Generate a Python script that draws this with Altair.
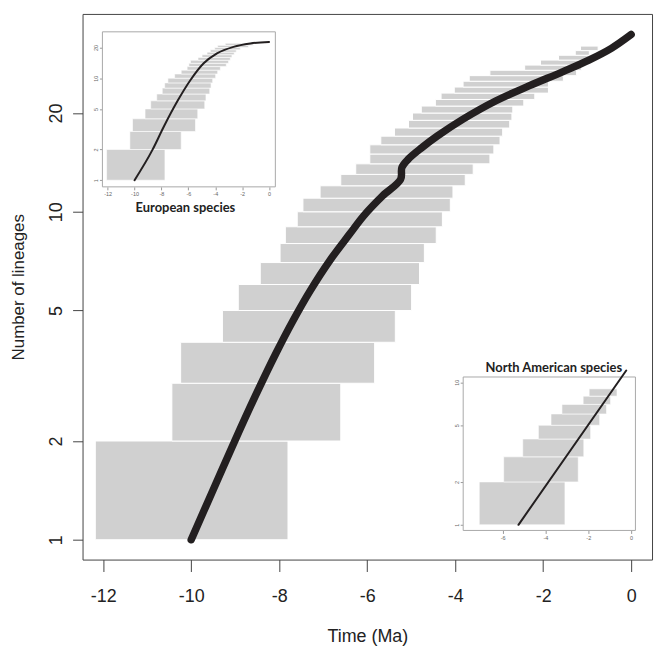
import altair as alt
import pandas as pd

# ---------------- data ----------------
# Main panel: lineage-through-time intervals (one bar per lineage count)
main_n = list(range(1, 32))
main_left = [-12.18, -10.44, -10.24, -9.29, -8.93, -8.43, -7.98, -7.86, -7.59, -7.46,
             -7.07, -6.60, -6.26, -5.94, -5.94, -5.69, -5.38, -5.06, -4.97, -4.77,
             -4.45, -4.32, -4.02, -3.82, -3.68, -3.21, -2.42, -2.06, -1.65, -1.27, -1.15]
main_right = [-7.80, -6.60, -5.83, -5.36, -4.99, -4.81, -4.70, -4.43, -4.29, -4.11,
              -4.05, -3.77, -3.59, -3.21, -3.12, -2.98, -2.92, -2.76, -2.71, -2.69,
              -2.44, -2.19, -1.88, -1.88, -1.54, -1.24, -1.13, -1.06, -0.97, -0.95, -0.75]
main_curve_t = [-10.0, -9.52, -9.01, -8.55, -8.07, -7.68, -7.29, -6.85, -6.39, -6.08,
                -5.65, -5.24, -5.21, -5.06, -4.76, -4.41, -3.82, -3.07, -2.31, -1.56,
                -0.96, -0.45, 0.0]
main_curve_n = [1.0, 1.40, 2.0, 2.73, 3.71, 4.67, 5.76, 7.10, 8.58, 9.72,
                11.18, 12.55, 13.66, 14.49, 15.67, 17.0, 19.16, 21.8, 24.23, 26.71,
                29.0, 31.5, 34.7]

# European inset
eu_n = list(range(1, 22))
eu_left = [-12.08, -10.35, -10.15, -9.22, -8.80, -8.35, -7.94, -7.76, -7.52, -7.02,
           -6.53, -6.09, -5.96, -5.84, -5.28, -4.98, -4.61, -4.36, -4.04, -3.82, -3.25]
eu_right = [-7.74, -6.53, -5.47, -5.30, -4.78, -4.69, -4.41, -4.31, -4.19, -3.97,
            -3.82, -3.62, -3.18, -3.01, -2.88, -2.76, -2.59, -2.44, -2.14, -1.53, -1.16]
eu_curve_t = [-10.0, -8.68, -7.81, -6.83, -5.84, -4.86, -3.87, -2.64, -1.40, 0.0]
eu_curve_n = [1.0, 1.97, 3.38, 5.9, 9.6, 14.0, 17.5, 20.3, 21.9, 22.7]

# North American inset
na_n = list(range(1, 9))
na_left = [-7.09, -5.95, -5.06, -4.33, -3.74, -3.23, -2.24, -1.96]
na_right = [-3.09, -2.47, -2.21, -1.89, -1.47, -1.15, -0.96, -0.66]
na_curve_t = [-5.26, -0.23]
na_curve_n = [1.0, 12.1]

x_ticks_main = [-12, -10, -8, -6, -4, -2, 0]
y_ticks_main = [1, 2, 5, 10, 20]
x_ticks_eu = [-12, -10, -8, -6, -4, -2, 0]
y_ticks_eu = [1, 2, 5, 10, 20]
x_ticks_na = [-6, -4, -2, 0]
y_ticks_na = [1, 2, 5, 10]

# ---------------- layout / style ----------------
W, H = 573, 549
FONT = "Liberation Sans"
BAR = "#d0d0d0"
INK = "#231f20"
PLAIN = "toString(datum.value)"


def bars_df(n, left, right):
    return pd.DataFrame({"lo": n, "hi": [v + 1 for v in n], "t0": left, "t1": right})


def curve_df(t, n):
    return pd.DataFrame({"t0": t, "lo": n, "k": list(range(len(t)))})


def frame_df(xd, yd):
    return pd.DataFrame({"t0": [xd[0]], "t1": [xd[1]], "lo": [yd[0]], "hi": [yd[1]]})


# ---------- main panel ----------
main_xd, main_yd = [-12.47, 0.475], [0.87, 40.1]
main_xs = alt.Scale(domain=main_xd, nice=False, zero=False)
main_ys = alt.Scale(type="log", domain=main_yd, nice=False)

main_xaxis = alt.Axis(
    orient="bottom", values=x_ticks_main, labelExpr=PLAIN, tickSize=12, domain=False,
    grid=False, labelFontSize=18, labelColor="#222", tickColor="#444", tickWidth=1,
    labelBaseline="alphabetic", labelPadding=30, labelFont=FONT,
    title="Time (Ma)", titleFontSize=18, titleFontWeight="normal", titleColor="#222",
    titleFont=FONT, titleBaseline="alphabetic", titleY=82, titleX=W / 2)
main_yaxis = alt.Axis(
    orient="left", values=y_ticks_main, labelExpr=PLAIN, tickSize=10, domain=False,
    grid=False, labelFontSize=18, labelColor="#222", tickColor="#444", tickWidth=1,
    labelAngle=270, labelAlign="center", labelBaseline="alphabetic", labelPadding=11,
    labelFont=FONT,
    title="Number of lineages", titleFontSize=17, titleFontWeight="normal",
    titleColor="#222", titleFont=FONT, titleAngle=270, titleAlign="center",
    titleBaseline="alphabetic", titleX=-59, titleY=H / 2)

main_bars = alt.Chart(bars_df(main_n, main_left, main_right)).mark_rect(
    fill=BAR, stroke="white", strokeWidth=1
).encode(
    x=alt.X("t0:Q", scale=main_xs, axis=main_xaxis),
    x2="t1:Q",
    y=alt.Y("lo:Q", scale=main_ys, axis=main_yaxis),
    y2="hi:Q",
)

main_line = alt.Chart(curve_df(main_curve_t, main_curve_n)).mark_line(
    color=INK, strokeWidth=7.5, strokeCap="round", strokeJoin="round",
    interpolate="catmull-rom"
).encode(
    x=alt.X("t0:Q", scale=main_xs, axis=main_xaxis),
    y=alt.Y("lo:Q", scale=main_ys, axis=main_yaxis),
    order="k:Q",
)

main_layer = alt.layer(main_bars, main_line)


def inset(xd, yd, xrange, yrange, n, left, right, ct, cn, xticks, yticks,
          xoffset, yoffset, title, title_x, title_y, interp):
    xs = alt.Scale(domain=xd, range=xrange, nice=False, zero=False)
    ys = alt.Scale(type="log", domain=yd, range=yrange, nice=False)
    xaxis = alt.Axis(
        orient="bottom", offset=xoffset, values=xticks, labelExpr=PLAIN, tickSize=3,
        domain=False, grid=False, labelFontSize=5.5, labelColor="#666",
        tickColor="#999", labelPadding=2, labelFont=FONT,
        title=title, titleFont="Lato", titleFontWeight="bold", titleFontSize=13,
        titleColor="#222", titleBaseline="alphabetic", titleAlign="center",
        titleX=title_x, titleY=title_y)
    yaxis = alt.Axis(
        orient="left", offset=yoffset, values=yticks, labelExpr=PLAIN, tickSize=3,
        domain=False, grid=False, labelFontSize=5.5, labelColor="#666",
        tickColor="#999", labelAngle=270, labelAlign="center",
        labelBaseline="alphabetic", labelPadding=2, labelFont=FONT, title="")
    frame = alt.Chart(frame_df(xd, yd)).mark_rect(
        fill="white", stroke="#a8a8a8", strokeWidth=1
    ).encode(
        x=alt.X("t0:Q", scale=xs, axis=xaxis), x2="t1:Q",
        y=alt.Y("lo:Q", scale=ys, axis=yaxis), y2="hi:Q",
    )
    bars = alt.Chart(bars_df(n, left, right)).mark_rect(
        fill=BAR, stroke="white", strokeWidth=0.6
    ).encode(
        x=alt.X("t0:Q", scale=xs, axis=xaxis), x2="t1:Q",
        y=alt.Y("lo:Q", scale=ys, axis=yaxis), y2="hi:Q",
    )
    line = alt.Chart(curve_df(ct, cn)).mark_line(
        color=INK, strokeWidth=2, strokeCap="round", interpolate=interp
    ).encode(
        x=alt.X("t0:Q", scale=xs, axis=xaxis),
        y=alt.Y("lo:Q", scale=ys, axis=yaxis),
        order="k:Q",
    )
    return alt.layer(frame, bars, line)


eu_layer = inset([-12.39, 0.47], [0.86, 28.5], [20, 194], [174, 18],
                 eu_n, eu_left, eu_right, eu_curve_t, eu_curve_n,
                 x_ticks_eu, y_ticks_eu, -375, -20,
                 "European species", 103, 25, "monotone")

na_layer = inset([-7.84, 0.2], [0.913, 10.9], [383, 556.3], [519.7, 365.3],
                 na_n, na_left, na_right, na_curve_t, na_curve_n,
                 x_ticks_na, y_ticks_na, -29.3, -383,
                 "North American species", 473.7, -159.5, "linear")

chart = alt.layer(main_layer, eu_layer, na_layer).resolve_scale(
    x="independent", y="independent"
).resolve_axis(
    x="independent", y="independent"
).properties(
    width=W, height=H,
    autosize=alt.AutoSizeParams(type="none"),
    padding={"left": 75, "top": 4, "right": 4, "bottom": 86},
).configure_view(
    stroke="#444", strokeWidth=1
)

chart.save("out.html", embed_options={"renderer": "svg", "actions": False})
